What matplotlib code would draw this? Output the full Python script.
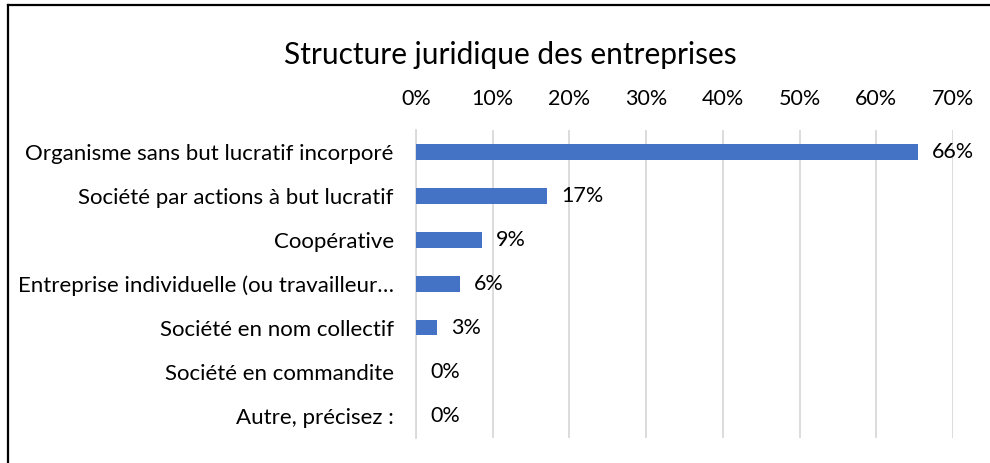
import matplotlib
matplotlib.use("Agg")
import matplotlib.pyplot as plt
from matplotlib.lines import Line2D

categories = [
    "Organisme sans but lucratif incorporé",
    "Société par actions à but lucratif",
    "Coopérative",
    "Entreprise individuelle (ou travailleur…",
    "Société en nom collectif",
    "Société en commandite",
    "Autre, précisez :",
]
values = [65.5, 17.1, 8.6, 5.7, 2.8, 0.0, 0.0]
value_labels = ["66%", "17%", "9%", "6%", "3%", "0%", "0%"]
tick_values = [0, 10, 20, 30, 40, 50, 60, 70]
tick_labels = ["0%", "10%", "20%", "30%", "40%", "50%", "60%", "70%"]
title = "Structure juridique des entreprises"

plt.rcParams['font.family'] = ['Lato', 'DejaVu Sans']

W, H = 990, 463
fig = plt.figure(figsize=(W / 100, H / 100), dpi=100)
fig.patch.set_facecolor("white")

ax = fig.add_axes([416 / W, 1 - 437.7 / H, (953 - 416) / W, (437.7 - 130) / H])
y = list(range(len(categories)))
ax.barh(y, values, height=0.35, color="#4472C4", zorder=3)
ax.set_ylim(len(categories) - 0.5, -0.5)
ax.set_xlim(0, 70)
ax.set_yticks(y)
ax.set_yticklabels(categories, fontsize=16, color="#000000")
ax.set_xticks(tick_values)
ax.set_xticklabels(tick_labels, fontsize=15.5, color="#000000")
ax.xaxis.tick_top()
ax.tick_params(axis="x", length=0, pad=15)
ax.tick_params(axis="y", length=0, pad=16)
ax.grid(axis="x", color="#d9d9d9", linewidth=1.3, zorder=0)
for s in ["top", "right", "bottom"]:
    ax.spines[s].set_visible(False)
ax.spines["left"].set_color("#d9d9d9")
ax.spines["left"].set_linewidth(1.3)

for yi, v, lab in zip(y, values, value_labels):
    ax.annotate(lab, xy=(v, yi), xytext=(10, 0), textcoords="offset points",
                va="center", ha="left", fontsize=15.5, color="#000000")

fig.text(510 / W, 1 - 55 / H, title, ha="center", va="center", fontsize=21.5, color="#000000")

# chart border (left and top edges visible)
fig.add_artist(Line2D([8 / W, 8 / W], [0, 1 - 5 / H], transform=fig.transFigure, color="black", linewidth=1.6))
fig.add_artist(Line2D([8 / W, 1], [1 - 5 / H, 1 - 5 / H], transform=fig.transFigure, color="black", linewidth=1.6))

fig.savefig("out.png", dpi=100)
